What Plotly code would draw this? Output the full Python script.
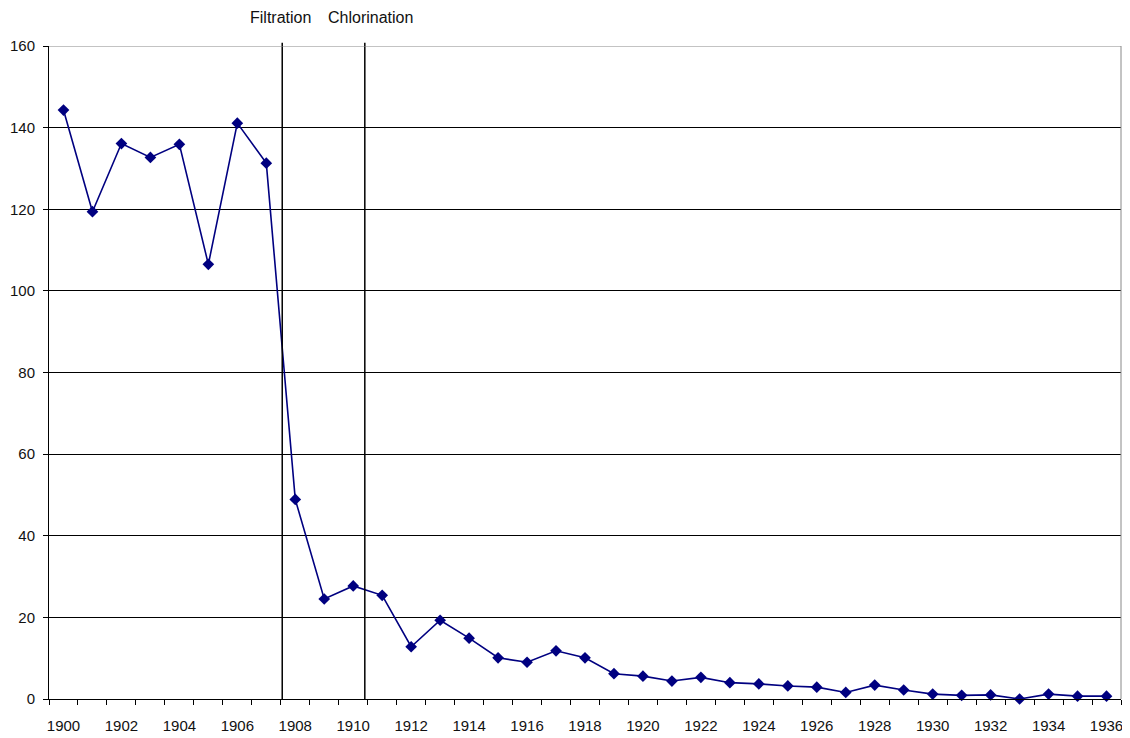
import plotly.graph_objects as go

years = list(range(1900, 1937))
rates = [144.3, 119.4, 136.1, 132.7, 135.9, 106.5, 141.1, 131.3,
         48.9, 24.5, 27.7, 25.4, 12.8, 19.3, 14.9, 10.1, 9.0, 11.8,
         10.1, 6.2, 5.6, 4.4, 5.3, 4.0, 3.7, 3.2, 2.9, 1.6, 3.4,
         2.2, 1.2, 0.9, 1.0, 0.0, 1.2, 0.7, 0.7]
event_labels = ["Filtration", "Chlorination"]
event_x = [1907.55, 1910.4]
label_x = [1907.49, 1910.6]
x_ticks = list(range(1900, 1937, 2))
y_ticks = [0, 20, 40, 60, 80, 100, 120, 140, 160]

font = "Liberation Sans, Arial, sans-serif"

fig = go.Figure()
fig.add_trace(go.Scatter(
    x=years, y=rates, mode="lines+markers",
    line=dict(color="#000080", width=1.6),
    marker=dict(symbol="diamond", size=9, color="#000080"),
    showlegend=False, cliponaxis=False,
))

shapes = []
for ex in event_x:
    shapes.append(dict(type="line", xref="x", yref="paper", x0=ex, x1=ex,
                       y0=0, y1=1.005, line=dict(color="black", width=1.5),
                       layer="above"))
shapes.append(dict(type="line", xref="paper", yref="y", x0=0, x1=1, y0=160, y1=160,
                   line=dict(color="#888888", width=1), layer="above"))
shapes.append(dict(type="line", xref="paper", yref="paper", x0=1, x1=1, y0=0, y1=1,
                   line=dict(color="#888888", width=1), layer="above"))

annotations = []
for lab, lx in zip(event_labels, label_x):
    annotations.append(dict(x=lx, y=1.0444, xref="x", yref="paper", text=lab,
                            showarrow=False, xanchor="center", yanchor="middle",
                            font=dict(family=font, size=16, color="#111111")))

# page has an 8px body margin; size the figure so the plot area lands where the reference has it
fig.update_layout(
    width=1122, height=730,
    margin=dict(l=41, r=9, t=38, b=39, autoexpand=False),
    paper_bgcolor="white", plot_bgcolor="white",
    shapes=shapes, annotations=annotations,
    font=dict(family=font, size=15, color="#111111"),
)
fig.update_xaxes(
    range=[1899.5, 1936.5], tickvals=x_ticks, ticktext=[str(t) for t in x_ticks],
    ticks="outside", ticklen=5, tickcolor="rgba(0,0,0,0)",
    showgrid=False, zeroline=False, showline=True, linecolor="black", linewidth=1,
    minor=dict(ticks="outside", ticklen=5, tickcolor="black", tickwidth=1,
               tickvals=[y - 0.5 for y in years] + [1936.5], showgrid=False),
    tickfont=dict(family=font, size=15, color="#111111"),
    ticklabelstandoff=8, automargin=False,
)
fig.update_yaxes(
    range=[0, 160], tickvals=y_ticks, ticks="outside", ticklen=5, tickcolor="black",
    showgrid=True, gridcolor="black", gridwidth=1, zeroline=False,
    showline=True, linecolor="black", linewidth=1,
    tickfont=dict(family=font, size=15, color="#111111"),
    ticklabelstandoff=5, automargin=False,
)

fig.write_html("out.html")
